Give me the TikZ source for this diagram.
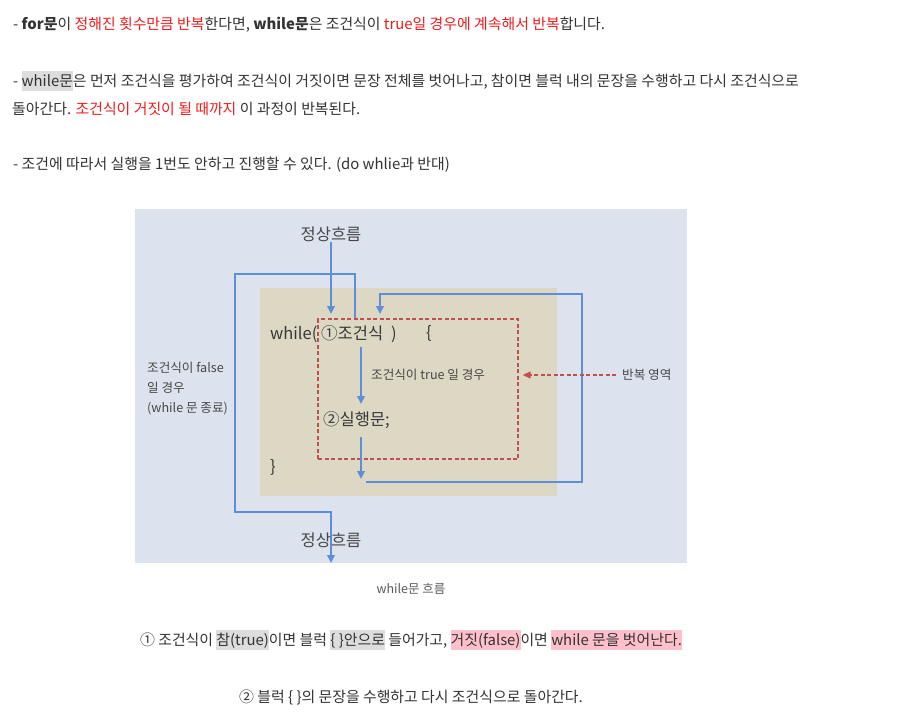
\documentclass[tikz,border=0pt]{standalone}
\usepackage{fontspec}
\setmainfont{Noto Sans CJK KR}
\usepackage{tikz}
\usetikzlibrary{arrows.meta}
\usepackage{xcolor}
\definecolor{bodytext}{HTML}{333333}
\definecolor{accentred}{HTML}{F01C1C}
\definecolor{markgray}{HTML}{DDDDDD}
\definecolor{markpink}{HTML}{FFC0CB}
\definecolor{figbg}{HTML}{DCE3EE}
\definecolor{blockbg}{HTML}{DDD8C4}
\definecolor{flowblue}{HTML}{5E8ED6}
\definecolor{zonered}{HTML}{C0504D}
\newcommand{\redtxt}[1]{\textcolor{accentred}{#1}}
\newcommand{\markbox}[2]{{\setlength{\fboxsep}{0pt}\colorbox{#1}{\rule[-4.5pt]{0pt}{19.5pt}#2}}}

\begin{document}
\begin{tikzpicture}[x=1pt,y=-1pt,
  para/.style={anchor=west,inner sep=0pt,text=bodytext,
               font=\fontsize{14.9}{17}\selectfont},
  centerline/.style={para,anchor=center},
  code/.style={anchor=west,inner sep=0pt,text=black!78,
               font=\fontsize{16.5}{19}\selectfont},
  note/.style={inner sep=0pt,text=black!72,font=\fontsize{12.6}{14}\selectfont},
  flowlabel/.style={inner sep=0pt,text=black!72,font=\fontsize{16.5}{18}\selectfont},
  flow/.style={-{Triangle[length=8pt,width=7.5pt]},flowblue,line width=2.3pt},
  zone/.style={draw=zonered,dash pattern=on 4pt off 2.5pt,line width=1.4pt,
               minimum width=200pt,minimum height=140pt,inner sep=0pt},
  zonearr/.style={-{Triangle[length=8pt,width=7pt]},zonered,
                  dash pattern=on 4pt off 2.5pt,line width=1.4pt}
]
  \useasboundingbox (0,0) rectangle (917,714);
  \fill[white] (0,0) rectangle (917,714);

  % text above the figure
  \node[para](lineA) at (13,25){- \textbf{for문}이 \redtxt{정해진 횟수만큼 반복}한다면,
    \textbf{while문}은 조건식이 \redtxt{true일 경우에 계속해서 반복}합니다.};
  \node[para](lineB) at (13,81){- \markbox{markgray}{while문}은 먼저 조건식을 평가하여
    조건식이 거짓이면 문장 전체를 벗어나고, 참이면 블럭 내의 문장을 수행하고 다시 조건식으로};
  \node[para](lineC) at (12,109){돌아간다. \redtxt{조건식이 거짓이 될 때까지} 이 과정이 반복된다.};
  \node[para](lineD) at (13,165){- 조건에 따라서 실행을 1번도 안하고 진행할 수 있다. (do whlie과 반대)};

  % figure
  \fill[figbg] (135,209) rectangle (687,563);
  \fill[blockbg] (260,288) rectangle (557,496);
  \node[zone](loopzone) at (418,389){};

  \node[code](kwwhile) at (270,334){while(};
  \node[code](cond) at (321,334){①조건식\hspace{8pt})};
  \node[code](brace) at (426,333){\{};
  \node[code](exec) at (323,420){②실행문;};
  \node[code](braceend) at (270,467){\}};
  \node[note,anchor=west](truenote) at (371,375){조건식이 true 일 경우};
  \node[note,anchor=west](zonelabel) at (622,375){반복 영역};
  \node[note,anchor=west,align=left](falsenote) at (147,389){조건식이 false\\[6pt]일 경우\\[6pt](while 문 종료)};

  \node[flowlabel](flowtop) at (331,234){정상흐름};

  \coordinate (condin) at (331,314);
  \coordinate (exitstart) at (355,318);
  \coordinate (exittop) at (235,274);
  \coordinate (exitbot) at (331,512);
  \coordinate (exitend) at (331,563);
  \coordinate (truestart) at (361,347);
  \coordinate (trueend) at (361,404);
  \coordinate (execstart) at (361,437);
  \coordinate (execend) at (361,479);
  \coordinate (backstart) at (366,482);
  \coordinate (backtop) at (582,294);
  \coordinate (backend) at (380,314);

  \draw[flow](flowtop.south)--(condin);
  \draw[flow](exitstart)|-(exittop)|-(exitbot)--(exitend);
  \draw[flow](truestart)--(trueend);
  \draw[flow](execstart)--(execend);
  \draw[flow](backstart)-|(backtop)-|(backend);
  \draw[zonearr]([xshift=-6pt]zonelabel.west)--([xshift=4pt]loopzone.east|-zonelabel);

  \node[flowlabel](flowbot) at (331,540){정상흐름};

  % caption and notes
  \node[inner sep=0pt,text=black!65,font=\fontsize{12.5}{14}\selectfont](caption)
    at (411,589){while문 흐름};
  \node[centerline](stepone) at (411,640){① 조건식이 \markbox{markgray}{참(true)}이면 블럭
    \markbox{markgray}{\{ \}안으로} 들어가고, \markbox{markpink}{거짓(false)}이면
    \markbox{markpink}{while 문을 벗어난다.}};
  \node[centerline](steptwo) at (411,697){② 블럭 \{ \}의 문장을 수행하고 다시 조건식으로 돌아간다.};
\end{tikzpicture}
\end{document}
